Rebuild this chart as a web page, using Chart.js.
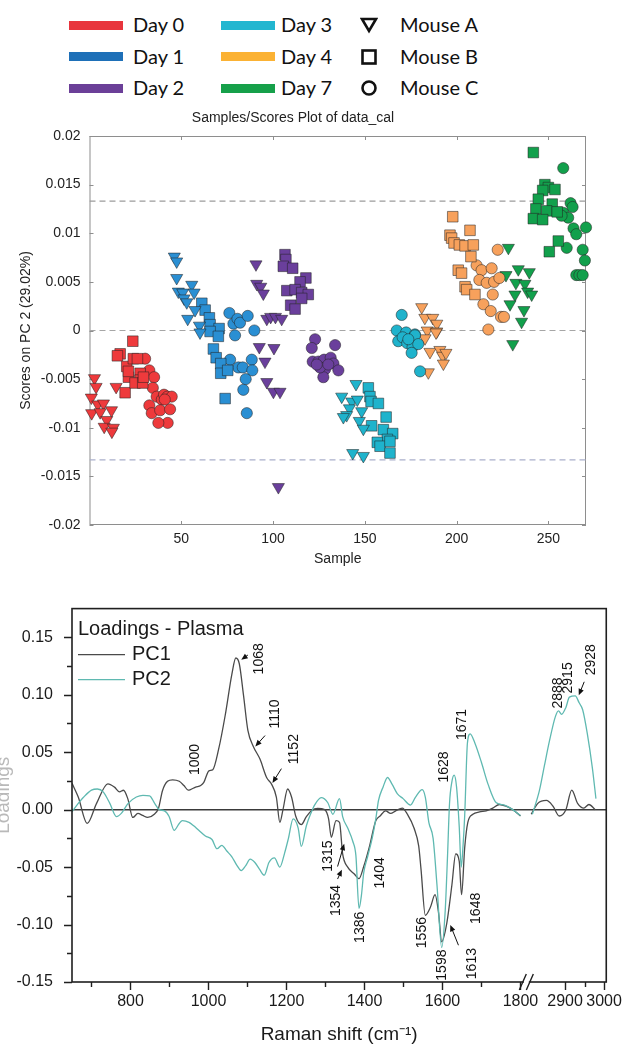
<!DOCTYPE html>
<html>
<head>
<meta charset="utf-8">
<title>PCA scores and loadings</title>
<script src="https://cdn.jsdelivr.net/npm/chart.js@4.4.0/dist/chart.umd.min.js"></script>
<style>
  html, body { margin: 0; padding: 0; background: #fff; }
  body { width: 632px; height: 1053px; position: relative; overflow: hidden; }
  #legend { position: absolute; left: 0; top: 0; width: 632px; height: 100px; }
  .sw { position: absolute; height: 9px; }
  .lt { position: absolute; font-family: Lato, "Open Sans", sans-serif; font-size: 20px; line-height: 24px; color: #111; white-space: nowrap; }
  .ic { position: absolute; }
  #scoresChart { position: absolute; left: 0; top: 100px; }
  #loadChart { position: absolute; left: 0; top: 580px; }
</style>
</head>
<body>
<div id="legend"></div>
<canvas id="scoresChart" width="632" height="480"></canvas>
<canvas id="loadChart" width="632" height="473"></canvas>

<script>
// ================= SCORES DATA : [sample, score on PC 2] =================
const d0A = [[2.7,-0.0049],[3.6,-0.0058],[1,-0.0069],[4.5,-0.0076],[7.6,-0.0075],[1.2,-0.0085],[5.8,-0.0084],[9.4,-0.0092],[12,-0.0082],[8,-0.0099],[13,-0.0100],[12.2,-0.0104],[14.5,-0.0058]];
const d0B = [[23.6,-0.0011],[16.7,-0.0024],[15.2,-0.0026],[20.3,-0.0037],[21.2,-0.0048],[19.4,-0.0064],[23.9,-0.0029],[26.1,-0.0029],[27.6,-0.0044],[27.6,-0.0051],[24.8,-0.0054],[29,-0.0054],[21.2,-0.0042],[29.4,-0.0048]];
const d0C = [[30.3,-0.0029],[32.6,-0.0041],[35.2,-0.0048],[34.5,-0.0059],[32.6,-0.0077],[33.9,-0.0085],[36.6,-0.0068],[39.4,-0.0071],[38.5,-0.0082],[40.6,-0.0066],[42.4,-0.0068],[44.8,-0.0068],[43.9,-0.0081],[42.6,-0.0095],[37.5,-0.0095],[41,-0.0071]];

const d1A = [[46.2,0.0076],[47.5,0.0071],[47.5,0.0054],[48.4,0.0040],[50.8,0.0039],[51.5,0.0033],[53,0.0029],[55.7,0.0047],[57,0.0039],[53.5,0.0012],[57.5,0.0021],[59.9,0.0005],[60.2,-0.0002]];
const d1B = [[61.2,0.0028],[63,0.0021],[65.3,0.0013],[65.7,0.0006],[70.6,0.0002],[65.7,-0.0001],[70.2,-0.0006],[67.5,-0.0019],[69,-0.0028],[71.5,-0.0034],[71.5,-0.0044],[75.3,-0.0041],[73.9,-0.0070]];
const d1C = [[76.2,0.0018],[78.4,0.0007],[80.6,0.0012],[82,0.0008],[86.2,0.0015],[89.8,0.0000],[79.3,-0.0005],[76.6,-0.0030],[81.1,-0.0038],[83.5,-0.0038],[88.4,-0.0030],[88.7,-0.0041],[85.1,-0.0050],[83.8,-0.0061],[85.7,-0.0085]];

const d2A = [[90.7,0.0068],[91.1,0.0048],[93.3,0.0045],[94.7,0.0038],[96.6,0.0012],[98.7,0.0014],[101.3,0.0014],[104.7,0.0012],[92.5,-0.0017],[100.5,-0.0018],[95.6,-0.0032],[96.6,-0.0053],[100.2,-0.0063],[103.8,-0.0063],[102.9,-0.0161]];
const d2B = [[106.5,0.0078],[107,0.0073],[105.6,0.0066],[110.7,0.0064],[117.9,0.0054],[114.7,0.0050],[107.5,0.0041],[112,0.0042],[115.6,0.0039],[119.2,0.0037],[115.6,0.0033],[109.6,0.0026],[112,0.0022]];
const d2C = [[122.9,-0.0009],[121.1,-0.0018],[133.8,-0.0015],[121.6,-0.0032],[124.7,-0.0032],[127.8,-0.0030],[131.4,-0.0028],[132.9,-0.0034],[128.3,-0.0040],[135.6,-0.0041],[127.4,-0.0048],[125.6,-0.0038],[130.1,-0.0035],[123.8,-0.0035]];

const d3A = [[145.2,-0.0055],[137.4,-0.0068],[142.9,-0.0073],[145.9,-0.0071],[141.6,-0.0080],[140.1,-0.0087],[138.3,-0.0089],[148.3,-0.0083],[147,-0.0093],[149.2,-0.0101],[143.4,-0.0126],[149.2,-0.0129]];
const d3B = [[151.9,-0.0059],[152.8,-0.0068],[153.4,-0.0073],[157.4,-0.0075],[161.6,-0.0089],[153.7,-0.0098],[160.1,-0.0102],[165.2,-0.0106],[162.3,-0.0112],[156.8,-0.0115],[158.3,-0.0119],[163.7,-0.0114],[163.7,-0.0126]];
const d3C = [[170.1,0.0016],[167.4,0.0000],[172.5,-0.0002],[177.3,-0.0004],[168.2,-0.0011],[170.6,-0.0007],[173.1,-0.0013],[176,-0.0017],[177.3,-0.0005],[179.1,-0.0014],[175.5,-0.0023],[180.1,-0.0042],[173.7,-0.0009]];

const d4A = [[181,0.0024],[182.7,0.0013],[187,0.0013],[189.2,0.0007],[184,0.0000],[189.2,-0.0001],[182.8,-0.0008],[185.5,-0.0022],[188.8,-0.0002],[190.9,-0.0020],[192.4,-0.0026],[194.2,-0.0023],[192.8,-0.0034],[184.6,-0.0043]];
const d4B = [[197.9,0.0117],[207.3,0.0103],[196.4,0.0098],[197.3,0.0095],[198.6,0.0090],[201.5,0.0088],[204.6,0.0087],[209.1,0.0088],[207.8,0.0076],[200.9,0.0062],[202.7,0.0059],[204.6,0.0045],[205.5,0.0042],[210,0.0037]];
const d4C = [[222.4,0.0083],[210.9,0.0067],[213.6,0.0062],[219.1,0.0064],[212.4,0.0052],[216.4,0.0049],[220.4,0.0050],[223.3,0.0054],[219.7,0.0037],[214.6,0.0027],[218.6,0.0020],[224.2,0.0014],[225.8,0.0014],[217.3,0.0001]];

const d7A = [[228.2,0.0085],[226.9,0.0057],[233.6,0.0063],[239.6,0.0060],[232.3,0.0049],[237.2,0.0048],[238.7,0.0040],[240.9,0.0037],[231.8,0.0037],[229.1,0.0027],[236.7,0.0021],[235.4,0.0009],[230.6,-0.0014]];
const d7B = [[241.8,0.0183],[248.1,0.0150],[250,0.0147],[253.6,0.0145],[246.9,0.0144],[244.5,0.0135],[252.1,0.0130],[243.2,0.0125],[249.1,0.0123],[254.8,0.0122],[241.8,0.0115],[246.9,0.0114],[255.4,0.0092],[250.5,0.0081]];
const d7C = [[258.1,0.0167],[262.1,0.0131],[263.2,0.0127],[258.1,0.0121],[260.8,0.0116],[257.2,0.0118],[263.7,0.0105],[270.5,0.0106],[265.2,0.0099],[260,0.0085],[268.7,0.0083],[269.9,0.0072],[265.2,0.0057],[266.9,0.0057],[268.7,0.0057]];

const dayLabels = ['Day 0', 'Day 1', 'Day 2', 'Day 3', 'Day 4', 'Day 7'];
const mouseLabels = ['Mouse A', 'Mouse B', 'Mouse C'];
const pcLimits = [0.0133, 0, -0.0133];
const sampleTicks = [50, 100, 150, 200, 250];
const scoreTicks = [-0.02, -0.015, -0.01, -0.005, 0, 0.005, 0.01, 0.015, 0.02];

// ================= LOADINGS DATA =================
const pc1LowShift = [650,666,689,713,742,759,772,782,793,806,819,831,844,861,872,882,895,908,925,937,948,954,967,980,988,1001,1011,1026,1043,1060,1070,1079,1090,1101,1115,1132,1149,1162,1174,1183,1191,1203,1213,1224,1238,1251,1264,1280,1298,1308,1315,1327,1336,1344,1357,1374,1386,1398,1412,1429,1440,1454,1467,1480,1497,1510,1527,1539,1545,1556,1569,1581,1590,1598,1611,1624,1634,1643,1649,1657,1665,1678,1695,1712,1729,1746,1763,1780,1800];
const pc1LowLoad = [0.023,0.011,-0.012,0.0055,0.0225,0.0196,0.0155,0.0169,0.0096,-0.0068,-0.0033,-0.005,-0.0068,-0.004,0.0014,0.0165,0.0247,0.026,0.0247,0.021,0.017,0.0175,0.0196,0.021,0.0237,0.0338,0.0348,0.0526,0.0824,0.118,0.132,0.127,0.099,0.069,0.055,0.044,0.028,0.022,0.011,-0.011,0.0,0.018,0.011,-0.006,-0.013,-0.006,-0.001,0.001,0,-0.008,-0.024,-0.0096,-0.011,-0.0385,-0.05,-0.056,-0.06,-0.0495,-0.033,-0.0096,-0.0055,-0.001,-0.0033,-0.001,0.0014,-0.004,-0.016,-0.0316,-0.052,-0.092,-0.085,-0.074,-0.09,-0.115,-0.099,-0.066,-0.0385,-0.045,-0.074,-0.033,-0.011,-0.004,-0.002,-0.001,0.0014,0.0045,0.003,0,-0.0055];
const pc1HighShift = [2813,2830,2852,2869,2885,2902,2917,2932,2948,2961,2977];
const pc1HighLoad = [-0.004,0.0055,0.008,0.003,-0.0055,0,0.017,0.0055,0.0014,0.0045,0];

const pc2LowShift = [650,665,680,700,715,730,747,764,777,794,815,832,849,862,874,887,899,912,925,933,950,962,975,992,1009,1022,1034,1047,1060,1072,1084,1095,1107,1119,1131,1143,1155,1169,1183,1195,1205,1217,1230,1238,1251,1264,1272,1289,1306,1319,1336,1344,1357,1370,1378,1386,1392,1398,1408,1420,1429,1436,1448,1459,1471,1484,1499,1518,1531,1548,1556,1565,1576,1586,1598,1607,1613,1618,1624,1630,1636,1643,1648,1653,1657,1664,1671,1683,1700,1717,1738,1759,1780,1800];
const pc2LowLoad = [-0.002,0.005,0.011,0.017,0.018,0.0155,0.0055,-0.006,-0.003,0.0055,0.011,0.0125,0.012,0.0055,0,-0.001,-0.006,-0.018,-0.012,-0.0096,-0.011,-0.014,-0.018,-0.023,-0.026,-0.034,-0.031,-0.036,-0.041,-0.048,-0.053,-0.049,-0.043,-0.046,-0.052,-0.057,-0.046,-0.042,-0.050,-0.038,-0.025,-0.008,-0.016,-0.032,-0.014,-0.002,0.004,0.0105,0.006,-0.004,0.0096,-0.006,-0.016,-0.0275,-0.04,-0.086,-0.075,-0.055,-0.041,-0.0245,-0.008,0.008,0.02,0.028,0.022,0.014,0.0096,0.004,0.011,0.0175,0.011,-0.011,-0.025,-0.066,-0.12,-0.088,-0.04,0.005,0.024,0.03,0.02,-0.015,-0.05,-0.03,-0.005,0.058,0.066,0.058,0.041,0.022,0.006,0.004,0,-0.005];
const pc2HighShift = [2816,2834,2847,2860,2875,2883,2891,2902,2911,2926,2936,2945,2957,2970,2979];
const pc2HighLoad = [-0.004,0.0165,0.0385,0.06,0.081,0.086,0.083,0.089,0.098,0.099,0.093,0.087,0.066,0.036,0.0096];

const loadSeries = ['PC1', 'PC2'];
const loadTitle = 'Loadings - Plasma';
const loadAxisTitle = 'Loadings';
const shiftMajor = [800, 1000, 1200, 1400, 1600, 1800, 2900, 3000];
const shiftMinor = [700, 900, 1100, 1300, 1500, 1700, 2950];
const loadTicks = [-0.15, -0.125, -0.1, -0.075, -0.05, -0.025, 0, 0.025, 0.05, 0.075, 0.1, 0.125, 0.15];
const peakLabels = ['1000','1068','1110','1152','1315','1354','1386','1404','1556','1598','1613','1648','1628','1671','2888','2915','2928'];

// ================= STYLES / LAYOUT =================
const FONT = '"Liberation Sans", Arial, sans-serif';
Chart.defaults.font.family = FONT;

const dayColors = ['#ee3a3c', '#2a8fd3', '#6a3f9c', '#1fb3cc', '#f7a15c', '#12a04c'];
const swatchColors = ['#e8353d', '#1e70b8', '#6b3f98', '#22b6d0', '#fbb234', '#16a04a'];
const shapes = ['triangle', 'rect', 'circle'];
const shapeRadius = [7, 7.5, 5.6];
const limitColors = ['#9c9c9c', '#a6a6a6', '#aab0cc'];
const loadColors = ['#4a4a4a', '#5fb9b1'];

// label placement for the peak notes: [shift, loading] where the text is centred
const notePlace = {
  '1000': [965, 0.0437], '1068': [1130, 0.1313], '1110': [1172, 0.0832], '1152': [1219, 0.0527],
  '1315': [1306, -0.0404], '1354': [1327, -0.079], '1386': [1389, -0.1024], '1404': [1441, -0.055],
  '1556': [1548, -0.107], '1598': [1598, -0.1353], '1613': [1677, -0.134], '1648': [1686, -0.0859],
  '1628': [1605, 0.0371], '1671': [1650, 0.0742], '2888': [2883, 0.1016], '2915': [2908, 0.1147],
  '2928': [2968, 0.1305]
};
// arrows: tail shift, tail loading, tip shift, tip loading
const noteArrows = [
  [1101, 0.1346, 1084, 0.1305], [1145, 0.0645, 1120, 0.055], [1187, 0.0357, 1164, 0.0233],
  [1331, -0.0495, 1348, -0.0297], [1331, -0.0604, 1342, -0.0522], [1641, -0.118, 1620, -0.1003],
  [2949, 0.1113, 2935, 0.0995]
];

// broken axis: 1800 | 2815 -> compress the silent region
const BREAK_AT = 1800, BREAK_SHIFT = 985.5;
const toAxis = v => v <= BREAK_AT ? v : v - BREAK_SHIFT;
const fromAxis = a => a <= BREAK_AT + 5 ? a : a + BREAK_SHIFT;

// ================= LEGEND (top) =================
const legendEl = document.getElementById('legend');
const rowsY = [25, 56.5, 88];

function addEl(cls, css, html) {
  const el = document.createElement('div');
  el.className = cls;
  Object.assign(el.style, css);
  if (html) el.innerHTML = html;
  legendEl.appendChild(el);
}

dayLabels.forEach((lab, i) => {
  const col = Math.floor(i / 3), row = i % 3;
  addEl('sw', { left: (col ? 221 : 69) + 'px', top: (rowsY[row] - 4.5) + 'px', width: '54px', background: swatchColors[i] });
  addEl('lt', { left: (col ? 281 : 133) + 'px', top: (rowsY[row] - 13) + 'px' }, lab);
});

const icons = [
  '<polygon points="2,3 16,3 9,15" />',
  '<rect x="2.5" y="2.5" width="13" height="13" />',
  '<circle cx="9" cy="9" r="6.5" />'
];
mouseLabels.forEach((lab, i) => {
  addEl('ic', { left: '360px', top: (rowsY[i] - 9) + 'px' },
    '<svg width="18" height="18" viewBox="0 0 18 18"><g fill="none" stroke="#111" stroke-width="2.6">' + icons[i] + '</g></svg>');
  addEl('lt', { left: '400px', top: (rowsY[i] - 13) + 'px' }, lab);
});

// ================= SCORES PLOT =================
const scoreGroups = [[d0A, d0B, d0C], [d1A, d1B, d1C], [d2A, d2B, d2C], [d3A, d3B, d3C], [d4A, d4B, d4C], [d7A, d7B, d7C]];

const scoreSets = [];
scoreGroups.forEach((mice, d) => {
  mice.forEach((pts, m) => {
    scoreSets.push({
      type: 'scatter',
      label: dayLabels[d] + ' ' + mouseLabels[m],
      data: pts.map(p => ({ x: p[0], y: p[1] })),
      pointStyle: shapes[m],
      rotation: m === 0 ? 180 : 0,
      pointRadius: shapeRadius[m],
      pointHoverRadius: shapeRadius[m],
      backgroundColor: dayColors[d],
      borderColor: 'rgba(35,35,35,0.75)',
      borderWidth: 0.7,
      clip: false,
      order: 1
    });
  });
});

pcLimits.forEach((lim, i) => {
  scoreSets.push({
    type: 'line',
    label: 'limit ' + lim,
    data: [{ x: 0, y: lim }, { x: 270.5, y: lim }],
    borderColor: limitColors[i],
    borderWidth: 1.2,
    borderDash: [6, 4],
    pointRadius: 0,
    order: 10
  });
});

const scoresFrame = {
  id: 'scoresFrame',
  beforeDatasetsDraw(chart) {
    const { ctx, chartArea: a, scales: { x, y } } = chart;
    ctx.save();
    ctx.strokeStyle = '#8e8e8e';
    ctx.lineWidth = 1;
    ctx.strokeRect(a.left + 0.5, a.top + 0.5, a.width - 1, a.height - 1);
    ctx.beginPath();
    x.ticks.forEach(t => {
      const px = Math.round(x.getPixelForValue(t.value)) + 0.5;
      ctx.moveTo(px, a.bottom); ctx.lineTo(px, a.bottom - 4);
      ctx.moveTo(px, a.top); ctx.lineTo(px, a.top + 4);
    });
    y.ticks.forEach(t => {
      const py = Math.round(y.getPixelForValue(t.value)) + 0.5;
      ctx.moveTo(a.left, py); ctx.lineTo(a.left + 4, py);
      ctx.moveTo(a.right, py); ctx.lineTo(a.right - 4, py);
    });
    ctx.stroke();
    ctx.restore();
  }
};

new Chart(document.getElementById('scoresChart'), {
  data: { datasets: scoreSets },
  options: {
    responsive: false,
    animation: false,
    layout: { padding: { top: 0, right: 46, bottom: 0, left: 0 } },
    plugins: {
      legend: { display: false },
      tooltip: { enabled: false },
      title: {
        display: true,
        text: 'Samples/Scores Plot of data_cal',
        color: '#222',
        font: { size: 14, weight: 'normal' },
        padding: { top: 10, bottom: 9.2 }
      }
    },
    scales: {
      x: {
        type: 'linear',
        min: 0,
        max: 270.5,
        afterBuildTicks: s => { s.ticks = sampleTicks.map(v => ({ value: v })); },
        afterFit: s => { s.height = 55; },
        grid: { display: false, drawTicks: false },
        border: { display: false },
        ticks: { color: '#222', font: { size: 14 }, padding: 6, maxRotation: 0, autoSkip: false },
        title: { display: true, text: 'Sample', color: '#222', font: { size: 14 }, padding: { top: 0, bottom: 12.6 } }
      },
      y: {
        min: -0.02,
        max: 0.02,
        afterBuildTicks: s => { s.ticks = scoreTicks.map(v => ({ value: v })); },
        afterFit: s => { s.width = 89.5; },
        grid: { display: false, drawTicks: false },
        border: { display: false },
        ticks: {
          color: '#222', font: { size: 14 }, padding: 9, autoSkip: false,
          callback: v => String(parseFloat(Number(v).toFixed(4)))
        },
        title: { display: true, text: 'Scores on PC 2 (29.02%)', color: '#222', font: { size: 14 }, padding: { top: 17.6, bottom: 0 } }
      }
    }
  },
  plugins: [scoresFrame]
});

// ================= LOADINGS PLOT =================
function segment(xs, ys) {
  return xs.map((v, i) => ({ x: toAxis(v), y: ys[i] }));
}
const gapPoint = { x: BREAK_AT + 12, y: null };

const loadSets = [
  {
    label: loadSeries[0],
    data: segment(pc1LowShift, pc1LowLoad).concat([gapPoint], segment(pc1HighShift, pc1HighLoad)),
    borderColor: loadColors[0],
    order: 2
  },
  {
    label: loadSeries[1],
    data: segment(pc2LowShift, pc2LowLoad).concat([gapPoint], segment(pc2HighShift, pc2HighLoad)),
    borderColor: loadColors[1],
    order: 1
  }
].map(ds => Object.assign(ds, {
  type: 'line',
  borderWidth: 1.3,
  pointRadius: 0,
  cubicInterpolationMode: 'monotone',
  spanGaps: false,
  fill: false
}));

function drawArrow(ctx, x1, y1, x2, y2) {
  const ang = Math.atan2(y2 - y1, x2 - x1);
  ctx.beginPath();
  ctx.moveTo(x1, y1);
  ctx.lineTo(x2 - Math.cos(ang) * 4, y2 - Math.sin(ang) * 4);
  ctx.stroke();
  ctx.beginPath();
  ctx.moveTo(x2, y2);
  ctx.lineTo(x2 - Math.cos(ang - 0.4) * 7, y2 - Math.sin(ang - 0.4) * 7);
  ctx.lineTo(x2 - Math.cos(ang + 0.4) * 7, y2 - Math.sin(ang + 0.4) * 7);
  ctx.closePath();
  ctx.fill();
}

const loadDecor = {
  id: 'loadDecor',
  afterDatasetsDraw(chart) {
    const { ctx, chartArea: a, scales: { x, y } } = chart;
    const px = v => x.getPixelForValue(toAxis(v));
    ctx.save();

    // frame
    ctx.strokeStyle = '#1f1f1f';
    ctx.lineWidth = 1.6;
    ctx.strokeRect(a.left, a.top, a.width, a.height);

    // outward ticks
    ctx.lineWidth = 1.4;
    ctx.beginPath();
    shiftMajor.concat(shiftMinor).forEach(v => {
      const len = shiftMajor.includes(v) ? 8 : 5;
      const p = Math.round(px(v)) + 0.5;
      ctx.moveTo(p, a.bottom); ctx.lineTo(p, a.bottom + len);
    });
    loadTicks.forEach((v, i) => {
      const len = i % 2 === 0 ? 8 : 5;
      const p = Math.round(y.getPixelForValue(v)) + 0.5;
      ctx.moveTo(a.left, p); ctx.lineTo(a.left - len, p);
    });
    ctx.stroke();

    // axis break
    const b1 = x.getPixelForValue(BREAK_AT + 6), b2 = x.getPixelForValue(BREAK_AT + 24);
    ctx.fillStyle = '#fff';
    ctx.fillRect(b1 + 1, a.bottom - 3, b2 - b1 - 2, 6);
    ctx.beginPath();
    [b1, b2].forEach(b => { ctx.moveTo(b - 3.5, a.bottom + 8); ctx.lineTo(b + 3.5, a.bottom - 8); });
    ctx.stroke();

    // faint, partly cut y-axis title at the left edge
    ctx.save();
    ctx.translate(4, (a.top + a.bottom) / 2);
    ctx.rotate(-Math.PI / 2);
    ctx.font = '19px ' + FONT;
    ctx.fillStyle = '#b9b9b9';
    ctx.textAlign = 'center';
    ctx.textBaseline = 'middle';
    ctx.fillText(loadAxisTitle, 0, 0);
    ctx.restore();

    // inner legend
    ctx.fillStyle = '#1a1a1a';
    ctx.font = '20px ' + FONT;
    ctx.textAlign = 'left';
    ctx.textBaseline = 'middle';
    ctx.fillText(loadTitle, a.left + 6, a.top + 20.5);
    chart.data.datasets.forEach((ds, i) => {
      const ly = a.top + 46 + i * 25;
      ctx.strokeStyle = ds.borderColor;
      ctx.lineWidth = 1.3;
      ctx.beginPath();
      ctx.moveTo(a.left + 6, ly); ctx.lineTo(a.left + 53, ly);
      ctx.stroke();
      ctx.fillText(ds.label, a.left + 60, ly);
    });

    // peak notes
    ctx.font = '14px ' + FONT;
    ctx.fillStyle = '#111';
    ctx.textAlign = 'center';
    peakLabels.forEach(lab => {
      const [sx, sy] = notePlace[lab];
      ctx.save();
      ctx.translate(px(sx), y.getPixelForValue(sy));
      ctx.rotate(-Math.PI / 2);
      ctx.fillText(lab, 0, 0);
      ctx.restore();
    });
    ctx.strokeStyle = '#111';
    ctx.lineWidth = 1;
    noteArrows.forEach(([x1, y1, x2, y2]) => {
      drawArrow(ctx, px(x1), y.getPixelForValue(y1), px(x2), y.getPixelForValue(y2));
    });

    ctx.restore();
  }
};

new Chart(document.getElementById('loadChart'), {
  data: { datasets: loadSets },
  options: {
    responsive: false,
    animation: false,
    layout: { padding: { top: 7, right: 21, bottom: 0, left: 0 } },
    plugins: { legend: { display: false }, tooltip: { enabled: false } },
    scales: {
      x: {
        type: 'linear',
        min: 650,
        max: toAxis(3005.5),
        afterBuildTicks: s => { s.ticks = shiftMajor.map(v => ({ value: toAxis(v) })); },
        afterFit: s => { s.height = 71; },
        grid: { display: false, drawTicks: false },
        border: { display: false },
        ticks: {
          color: '#1a1a1a', font: { size: 16 }, padding: 10, maxRotation: 0, autoSkip: false,
          callback: v => String(Math.round(fromAxis(v)))
        },
        title: { display: true, text: 'Raman shift (cm\u207B\u00B9)', color: '#1a1a1a', font: { size: 19 }, padding: { top: 0, bottom: 6.6 } }
      },
      y: {
        min: -0.15,
        max: 0.175,
        afterBuildTicks: s => { s.ticks = loadTicks.map(v => ({ value: v })); },
        afterFit: s => { s.width = 72; },
        grid: {
          drawTicks: false,
          lineWidth: 1.6,
          color: c => (c.tick && Math.abs(c.tick.value) < 1e-9) ? '#3a3a3a' : 'rgba(0,0,0,0)'
        },
        border: { display: false },
        ticks: {
          color: '#1a1a1a', font: { size: 16 }, padding: 19, autoSkip: false,
          callback: (v, i) => i % 2 === 0 ? Number(v).toFixed(2) : ''
        }
      }
    }
  },
  plugins: [loadDecor]
});
</script>
</body>
</html>
